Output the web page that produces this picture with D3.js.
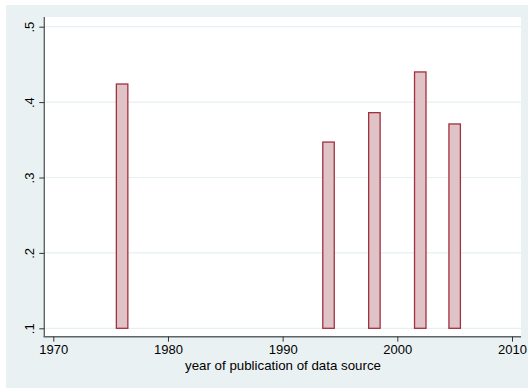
<!DOCTYPE html>
<html>
<head>
<meta charset="utf-8">
<script src="https://cdn.jsdelivr.net/npm/d3@7"></script>
<style>
  html, body { margin: 0; padding: 0; background: #ffffff; }
  svg { display: block; }
  text { font-family: "Liberation Sans", Arial, Helvetica, sans-serif; fill: #000; }
</style>
</head>
<body>
<svg id="chart" width="529" height="388"></svg>
<script>
// Share by year of publication of the data source
const years = [1976, 1994, 1998, 2002, 2005];
const values = [0.424, 0.347, 0.386, 0.440, 0.371];
const xTicks = [1970, 1980, 1990, 2000, 2010];
const yTicks = [0.1, 0.2, 0.3, 0.4, 0.5];
const yTickLabels = [".1", ".2", ".3", ".4", ".5"];
const xTitle = "year of publication of data source";

const svg = d3.select("#chart");

// graph region and plot region
const outer = { x0: 6, y0: 5, x1: 528, y1: 388 };
const plot = { x0: 45, y0: 17, x1: 521, y1: 337 };

svg.append("rect")
  .attr("x", outer.x0).attr("y", outer.y0)
  .attr("width", outer.x1 - outer.x0).attr("height", outer.y1 - outer.y0)
  .attr("fill", "#eaf1f3");

svg.append("rect")
  .attr("x", plot.x0).attr("y", plot.y0)
  .attr("width", plot.x1 - plot.x0).attr("height", plot.y1 - plot.y0)
  .attr("fill", "#ffffff");

const x = d3.scaleLinear().domain([1970, 2010]).range([53.3, 512]);
const y = d3.scaleLinear().domain([0.1, 0.5]).range([328.3, 26.7]);

// horizontal grid lines
svg.append("g")
  .selectAll("line")
  .data(yTicks)
  .join("line")
  .attr("x1", plot.x0).attr("x2", plot.x1)
  .attr("y1", d => y(d)).attr("y2", d => y(d))
  .attr("stroke", "#e6eff1")
  .attr("stroke-width", 1.2);

// bars drawn from the .1 baseline, one year wide
const barW = x(1971) - x(1970);
svg.append("g")
  .selectAll("rect")
  .data(years.map((yr, i) => ({ yr, v: values[i] })))
  .join("rect")
  .attr("x", d => x(d.yr) - barW / 2)
  .attr("width", barW)
  .attr("y", d => y(d.v))
  .attr("height", d => y(0.1) - y(d.v))
  .attr("fill", "#dfc3c6")
  .attr("stroke", "#a3303f")
  .attr("stroke-width", 1.3);

const font = "'Liberation Sans', Arial, Helvetica, sans-serif";

// y axis
const yAxis = d3.axisLeft(y)
  .tickValues(yTicks)
  .tickFormat((d, i) => yTickLabels[i])
  .tickSize(5)
  .tickSizeOuter(0);
const gy = svg.append("g")
  .attr("transform", `translate(${plot.x0 - 0.7},0)`)
  .call(yAxis);
gy.select(".domain")
  .attr("d", `M0,${plot.y0}V${plot.y1}`)
  .attr("stroke", "#5f6566").attr("stroke-width", 1.4);
gy.selectAll(".tick line").attr("stroke", "#333").attr("stroke-width", 1);
gy.selectAll(".tick text")
  .attr("x", null).attr("dy", null)
  .attr("transform", "translate(-10.5,0) rotate(-90)")
  .attr("text-anchor", "middle")
  .style("font-size", "13px")
  .style("font-family", font)
  .attr("fill", "#000");

// x axis
const xAxis = d3.axisBottom(x)
  .tickValues(xTicks)
  .tickFormat(d3.format("d"))
  .tickSize(5)
  .tickSizeOuter(0);
const gx = svg.append("g")
  .attr("transform", `translate(0,${plot.y1 - 0.3})`)
  .call(xAxis);
gx.select(".domain")
  .attr("d", `M${plot.x0 - 1.4},0H${plot.x1}`)
  .attr("stroke", "#5f6566").attr("stroke-width", 1.4);
gx.selectAll(".tick line").attr("stroke", "#333").attr("stroke-width", 1);
gx.selectAll(".tick text")
  .attr("y", 17.8).attr("dy", null)
  .style("font-size", "13px")
  .style("font-family", font)
  .attr("fill", "#000");

// axis title
svg.append("text")
  .attr("x", (plot.x0 + plot.x1) / 2)
  .attr("y", 369.5)
  .attr("text-anchor", "middle")
  .style("font-size", "13.3px")
  .style("font-family", font)
  .text(xTitle);
</script>
</body>
</html>
